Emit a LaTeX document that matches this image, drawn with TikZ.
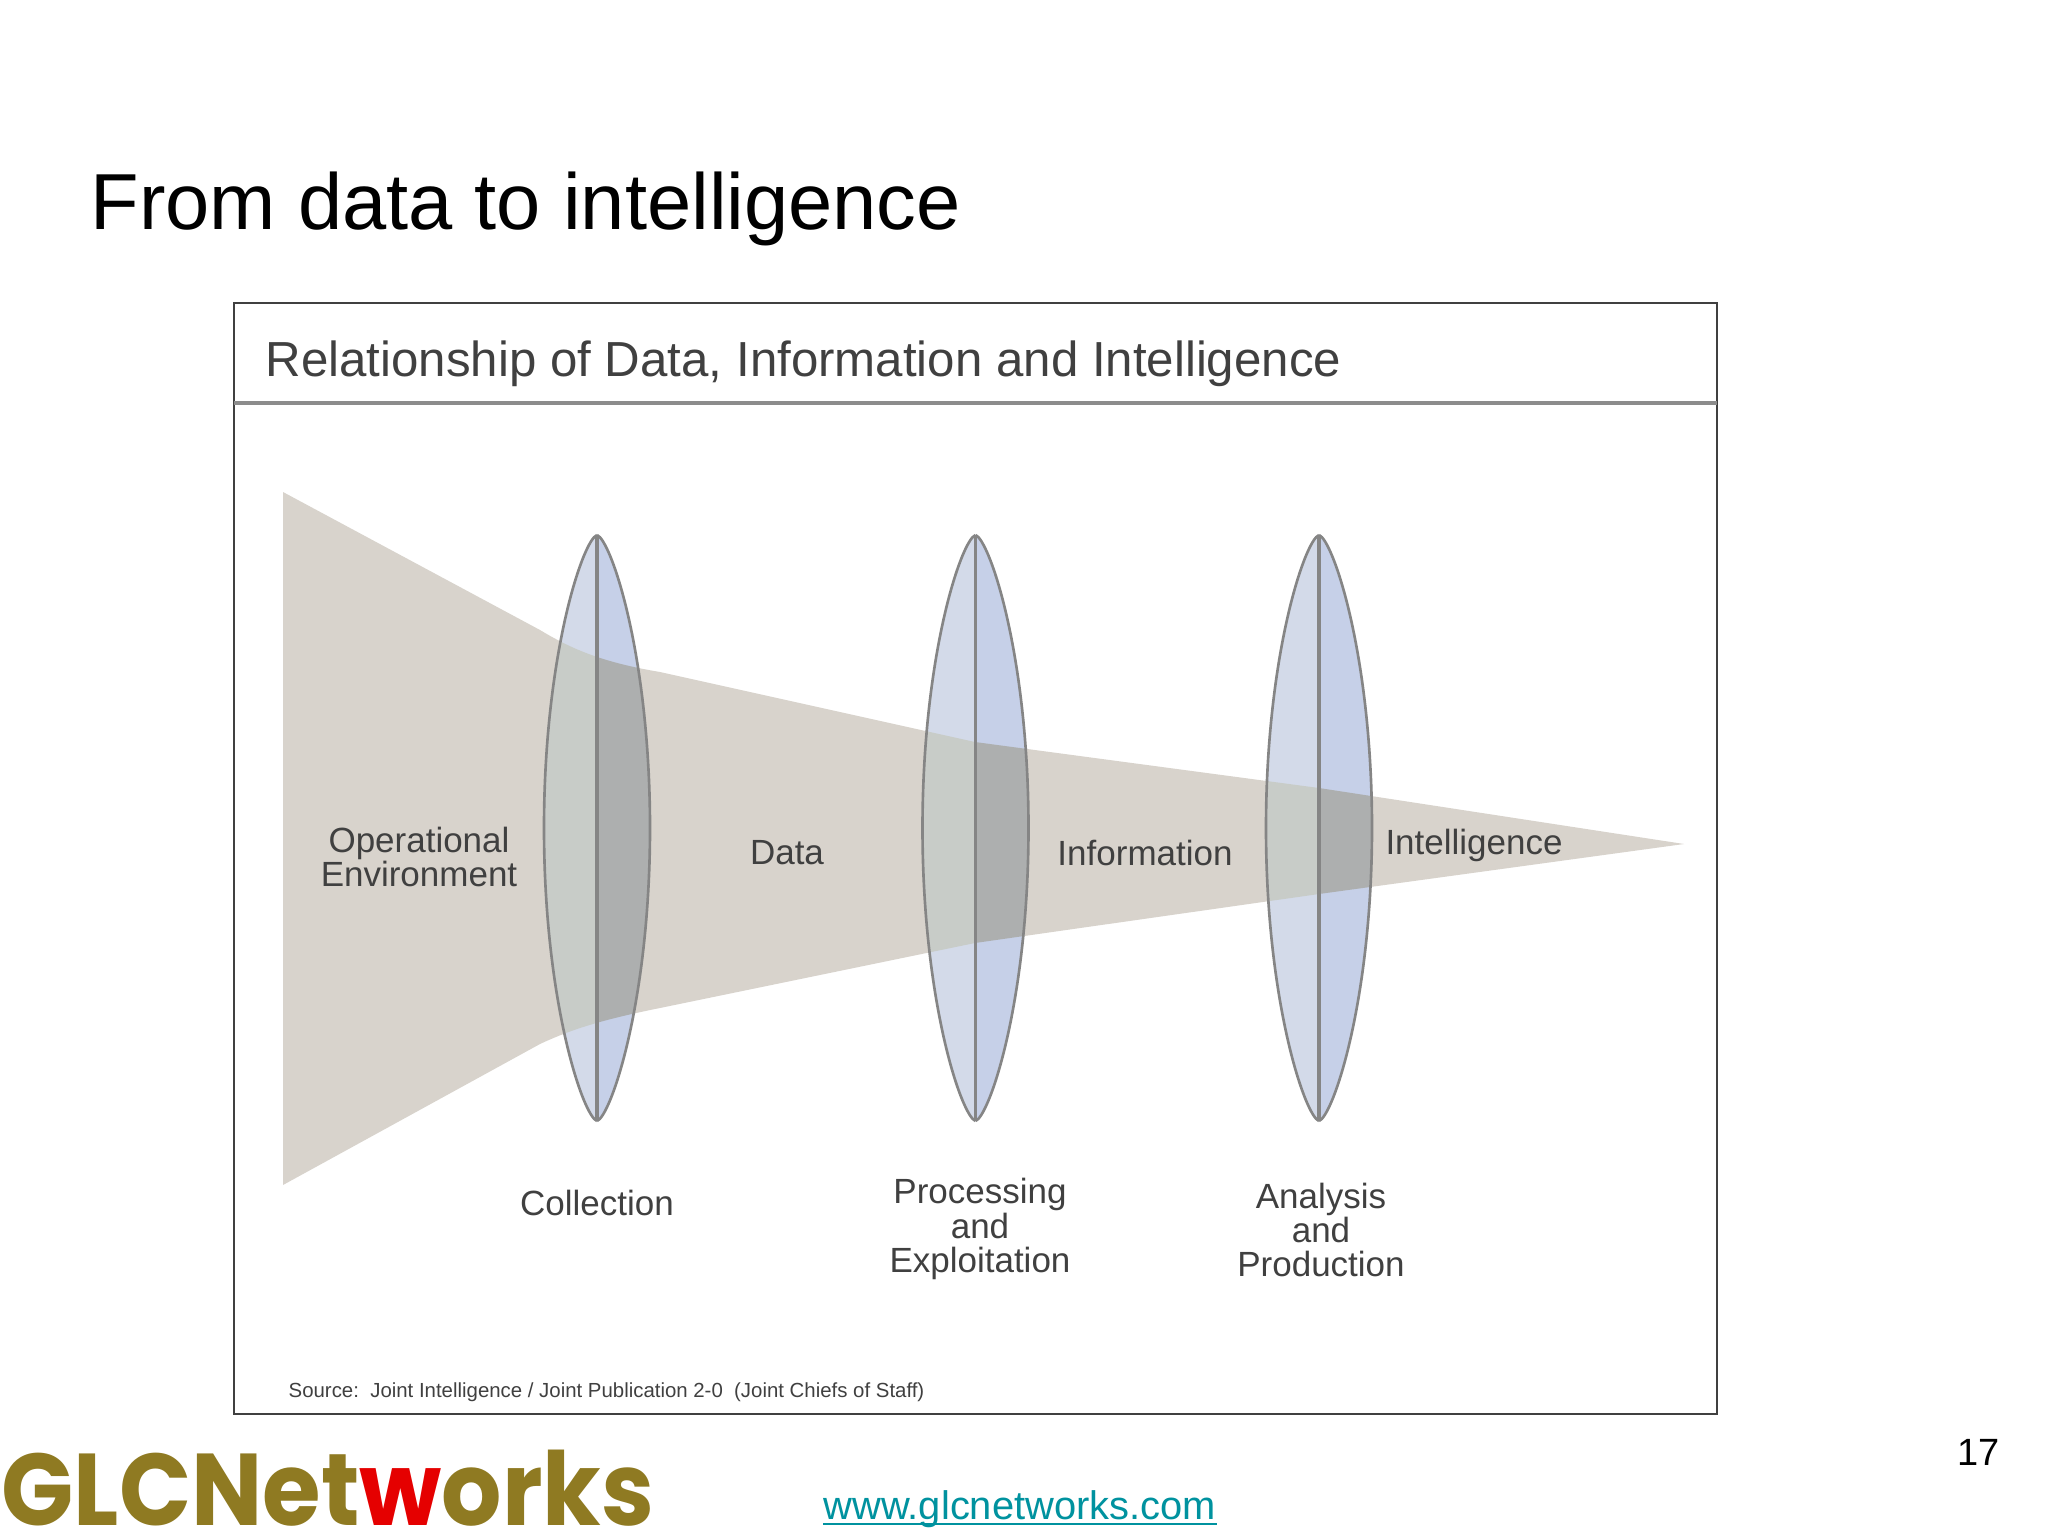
\documentclass[tikz,border=0pt]{standalone}
\usepackage{fontspec}
\setmainfont{Liberation Sans}
\newfontfamily\logofont{Poppins}
\usetikzlibrary{positioning}
\definecolor{funnelc}{HTML}{D8D3CC}
\definecolor{lensl}{HTML}{D3DAE9}
\definecolor{lensr}{HTML}{C6D0E8}
\definecolor{lenslo}{HTML}{C8CCC8}
\definecolor{lensro}{HTML}{ADAFAF}
\definecolor{edgec}{HTML}{858585}
\definecolor{textc}{HTML}{404040}
\definecolor{logoc}{HTML}{8F7A22}
\definecolor{urlc}{HTML}{00929F}
\newcommand{\fsize}[2]{\fontsize{#1}{#2}\selectfont}
\newcommand{\funnelpath}{(283,492) -- (540,630) .. controls (570,648) and (600,662) .. (660,672)
  -- (975,742) -- (1319,788) -- (1684,844) -- (1319,894) -- (975,943) -- (660,1008)
  .. controls (600,1020) and (570,1030) .. (540,1044) -- (283,1185) -- cycle}
\newcommand{\lenshalf}[2]{(#1,535) .. controls (#1#214,540) and (#1#253,655) .. (#1#253,828)
  .. controls (#1#253,1001) and (#1#214,1116) .. (#1,1121)}
\tikzset{
  lbl/.style    = {font=\fsize{9.95}{9.7}, text=textc, align=center, inner sep=0pt},
  frame/.style  = {draw=black!75, line width=0.7pt},
  lensline/.style = {draw=edgec, line width=0.75pt}
}
\begin{document}
\begin{tikzpicture}[x=0.01cm,y=-0.01cm]
\useasboundingbox (0,0) rectangle (2048,1536);
\fill[white] (0,0) rectangle (2048,1536);
\node [anchor=base west, inner sep=0pt, font=\fsize{22.6}{28}] (head) at (90,229) {From data to intelligence};
% the frame
\draw [frame, fill=white] (234,303) rectangle (1717,1414);
\draw [draw=black!45, line width=1.1pt] (234,403) -- (1717,403);
\node [anchor=base west, lbl, font=\fsize{14}{16}] (title) at (265,376) {Relationship of Data, Information and Intelligence};
% funnel
\fill [funnelc] \funnelpath;
% lenses
\foreach \lx in {597,975.5,1319} {
  \fill [lensl] \lenshalf{\lx}{-} -- cycle;
  \fill [lensr] \lenshalf{\lx}{+} -- cycle;
  \begin{scope}
    \clip \funnelpath;
    \fill [lenslo] \lenshalf{\lx}{-} -- cycle;
    \fill [lensro] \lenshalf{\lx}{+} -- cycle;
  \end{scope}
  \draw [lensline] \lenshalf{\lx}{-};
  \draw [lensline] \lenshalf{\lx}{+};
  \draw [lensline, line width=1.1pt] (\lx,535) -- (\lx,1121);
}
% labels
\node [lbl] (oper) at (419,857) {Operational\\Environment};
\node [lbl] (dat) at (787,853) {Data};
\node [lbl] (info) at (1145,853) {Information};
\node [lbl] (intel) at (1474,845) {Intelligence};
\node [lbl] (coll) at (597,1203) {Collection};
\node [lbl] (proc) at (980,1229) {Processing\\and\\Exploitation};
\node [lbl] (anal) at (1321,1230) {Analysis\\and\\Production};
\node [lbl, anchor=base west, font=\fsize{5.8}{8}] (src) at (288,1397) {Source:\ \ Joint Intelligence / Joint Publication 2-0\ \ (Joint Chiefs of Staff)};
% footer
\node [anchor=base west, inner sep=0pt, font=\logofont\bfseries\fsize{29}{34}, text=logoc] (logo) at (1,1525) {\scalebox{0.93}[1]{GLCNet\textcolor{red!90!black}{w}orks}};
\node [anchor=base west, inner sep=0pt, font=\fsize{11.34}{13}, text=urlc] (url) at (823,1519) {www.glcnetworks.com};
\draw [urlc, line width=0.8pt] ([yshift=-1.4pt]url.base west) -- ([yshift=-1.4pt]url.base east);
\node [anchor=base east, inner sep=0pt, font=\fsize{10.8}{13}] (pnum) at (2000,1465) {17};
\end{tikzpicture}
\end{document}
